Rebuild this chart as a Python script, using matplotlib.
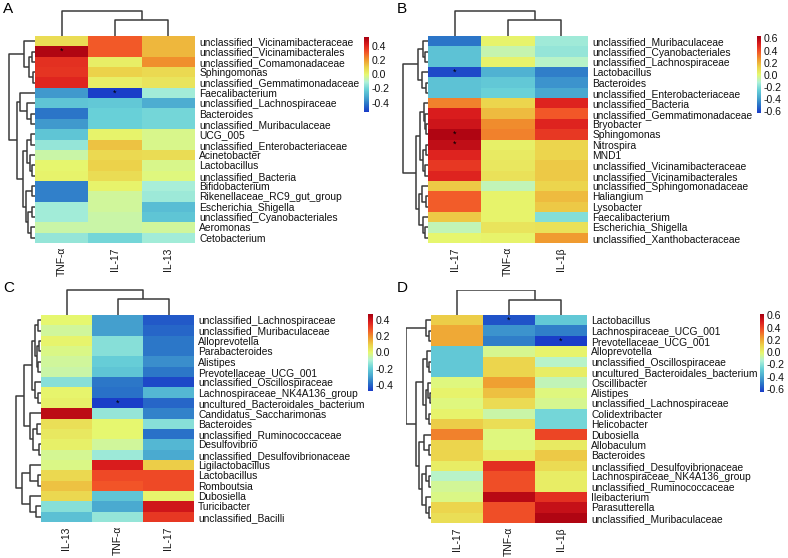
import numpy as np
import matplotlib
matplotlib.use("Agg")
import matplotlib.pyplot as plt
from matplotlib.colors import LinearSegmentedColormap, Normalize

plt.rcParams['font.family'] = ['Liberation Sans', 'DejaVu Sans']

# ---------------- data ----------------
# panel A
a_rows = ['unclassified_Vicinamibacteraceae', 'unclassified_Vicinamibacterales',
          'unclassified_Comamonadaceae', 'Sphingomonas', 'unclassified_Gemmatimonadaceae',
          'Faecalibacterium', 'unclassified_Lachnospiraceae', 'Bacteroides',
          'unclassified_Muribaculaceae', 'UCG_005', 'unclassified_Enterobacteriaceae',
          'Acinetobacter', 'Lactobacillus', 'unclassified_Bacteria', 'Bifidobacterium',
          'Rikenellaceae_RC9_gut_group', 'Escherichia_Shigella',
          'unclassified_Cyanobacteriales', 'Aeromonas', 'Cetobacterium']
a_cols = ['TNF-α', 'IL-17', 'IL-13']
a_vals = [[0.07, 0.30, 0.15], [0.50, 0.30, 0.15], [0.38, 0.02, 0.22], [0.37, 0.10, 0.08],
          [0.40, 0.02, 0.05], [-0.35, -0.53, -0.13], [-0.25, -0.24, -0.31], [-0.42, -0.22, -0.20],
          [-0.35, -0.22, -0.20], [-0.25, 0.01, -0.03], [-0.15, 0.13, -0.03], [-0.06, 0.08, 0.07],
          [0.00, 0.10, -0.03], [0.01, 0.07, -0.02], [-0.40, 0.01, -0.12], [-0.40, -0.05, -0.14],
          [-0.13, -0.05, -0.27], [-0.13, -0.06, -0.25], [-0.06, -0.06, -0.05], [-0.15, -0.20, -0.13]]
a_stars = [(1, 0), (5, 1)]
a_range = (-0.53, 0.52)
a_row_tree = (1.0,
              (0.40, 0, (0.23, (0.12, 1, 2), (0.08, 3, 4))),
              (0.67, (0.57, 5, (0.30, 6, (0.15, 7, 8))),
               (0.47, (0.30, (0.15, 9, 10), (0.20, 11, (0.10, 12, 13))),
                (0.35, (0.10, 14, 15), (0.25, (0.12, 16, 17), (0.15, 18, 19))))))
a_col_tree = (1.0, 0, (0.64, 1, 2))

# panel B
b_rows = ['unclassified_Muribaculaceae', 'unclassified_Cyanobacteriales',
          'unclassified_Lachnospiraceae', 'Lactobacillus', 'Bacteroides',
          'unclassified_Enterobacteriaceae', 'unclassified_Bacteria',
          'unclassified_Gemmatimonadaceae', 'Bryobacter', 'Sphingomonas', 'Nitrospira', 'MND1',
          'unclassified_Vicinamibacteraceae', 'unclassified_Vicinamibacterales',
          'unclassified_Sphingomonadaceae', 'Haliangium', 'Lysobacter', 'Faecalibacterium',
          'Escherichia_Shigella', 'unclassified_Xanthobacteraceae']
b_cols = ['IL-17', 'TNF-α', 'IL-1β']
b_vals = [[-0.50, 0.02, -0.15], [-0.30, -0.07, -0.17], [-0.30, 0.02, -0.10], [-0.60, -0.35, -0.48],
          [-0.30, -0.28, -0.43], [-0.30, -0.25, -0.38], [0.30, 0.12, 0.50], [0.52, 0.18, 0.38],
          [0.55, 0.28, 0.50], [0.62, 0.30, 0.45], [0.58, 0.03, 0.12], [0.50, 0.05, 0.12],
          [0.45, 0.06, 0.15], [0.50, 0.08, 0.15], [0.15, -0.08, 0.12], [0.37, 0.02, 0.18],
          [0.37, 0.02, 0.15], [0.15, 0.02, -0.20], [-0.08, 0.07, 0.08], [0.01, 0.02, 0.25]]
b_stars = [(3, 0), (9, 0), (10, 0)]
b_range = (-0.63, 0.64)
b_row_tree = (1.0,
              (0.38, (0.20, 0, (0.10, 1, 2)), (0.22, 3, (0.08, 4, 5))),
              (0.48, (0.30, (0.15, 6, (0.10, 7, (0.06, 8, 9))), (0.20, (0.08, 10, 11), (0.10, 12, 13))),
               (0.35, (0.22, 14, (0.08, 15, 16)), (0.20, 17, (0.10, 18, 19)))))
b_col_tree = (1.0, 0, (0.64, 1, 2))

# panel C
c_rows = ['unclassified_Lachnospiraceae', 'unclassified_Muribaculaceae', 'Alloprevotella',
          'Parabacteroides', 'Alistipes', 'Prevotellaceae_UCG_001',
          'unclassified_Oscillospiraceae', 'Lachnospiraceae_NK4A136_group',
          'uncultured_Bacteroidales_bacterium', 'Candidatus_Saccharimonas', 'Bacteroides',
          'unclassified_Ruminococcaceae', 'Desulfovibrio', 'unclassified_Desulfovibrionaceae',
          'Ligilactobacillus', 'Lactobacillus', 'Romboutsia', 'Dubosiella', 'Turicibacter',
          'unclassified_Bacilli']
c_cols = ['IL-13', 'TNF-α', 'IL-17']
c_vals = [[0.00, -0.30, -0.42], [-0.04, -0.30, -0.40], [0.01, -0.15, -0.37], [-0.02, -0.15, -0.37],
          [-0.04, -0.20, -0.33], [-0.05, -0.22, -0.37], [-0.15, -0.37, -0.45], [0.01, -0.38, -0.25],
          [0.02, -0.47, -0.40], [0.43, -0.13, -0.35], [0.06, 0.00, -0.15], [0.04, 0.00, -0.38],
          [0.02, -0.04, -0.25], [-0.03, -0.12, -0.28], [-0.02, 0.38, 0.10], [0.08, 0.30, 0.30],
          [0.12, 0.28, 0.30], [0.08, -0.22, 0.01], [-0.15, -0.28, 0.40], [-0.23, -0.13, 0.33]]
c_stars = [(8, 1)]
c_range = (-0.47, 0.47)
c_row_tree = (1.0,
              (0.68, (0.36, (0.25, (0.12, 0, 1), (0.15, (0.08, 2, 3), (0.10, 4, 5))),
                      (0.25, 6, (0.10, 7, 8))),
               (0.45, 9, (0.30, (0.15, 10, 11), (0.08, 12, 13)))),
              (0.74, (0.42, 14, (0.12, 15, 16)), (0.45, 17, (0.20, 18, 19))))
c_col_tree = (1.0, 0, (0.64, 1, 2))

# panel D
d_rows = ['Lactobacillus', 'Lachnospiraceae_UCG_001', 'Prevotellaceae_UCG_001',
          'Alloprevotella', 'unclassified_Oscillospiraceae', 'uncultured_Bacteroidales_bacterium',
          'Oscillibacter', 'Alistipes', 'unclassified_Lachnospiraceae', 'Colidextribacter',
          'Helicobacter', 'Dubosiella', 'Allobaculum', 'Bacteroides',
          'unclassified_Desulfovibrionaceae', 'Lachnospiraceae_NK4A136_group',
          'unclassified_Ruminococcaceae', 'Ileibacterium', 'Parasutterella',
          'unclassified_Muribaculaceae']
d_cols = ['IL-17', 'TNF-α', 'IL-1β']
d_vals = [[0.12, -0.60, -0.30], [0.20, -0.45, -0.50], [0.20, -0.50, -0.65], [-0.30, -0.05, 0.00],
          [-0.30, 0.10, -0.12], [-0.30, 0.10, 0.02], [-0.03, 0.22, -0.10], [0.00, 0.15, -0.03],
          [-0.03, 0.08, -0.05], [0.00, -0.08, -0.25], [0.12, 0.07, -0.25], [0.28, -0.03, 0.40],
          [0.10, -0.03, 0.03], [0.10, 0.02, 0.13], [0.02, 0.45, 0.08], [-0.12, 0.38, 0.02],
          [-0.06, 0.38, 0.02], [-0.04, 0.58, 0.45], [0.10, 0.38, 0.55], [0.07, 0.38, 0.60]]
d_stars = [(0, 1), (2, 2)]
d_range = (-0.65, 0.62)
d_row_tree = (1.0,
              (0.22, 0, (0.10, 1, 2)),
              (0.63, (0.32, (0.15, 3, (0.08, 4, 5)), (0.22, (0.12, 6, (0.06, 7, 8)), (0.10, 9, 10))),
               (0.49, (0.30, 11, (0.10, 12, 13)),
                (0.35, (0.20, 14, (0.08, 15, 16)), (0.22, 17, (0.08, 18, 19))))))
d_col_tree = (1.0, 0, (0.62, 1, 2))

# ---------------- style ----------------
W, H = 788, 558
cmap = LinearSegmentedColormap.from_list('hm', [
    "#1a3dc8", "#2a74c8", "#4aaad0", "#6ad2d8", "#b0f2d8", "#e6f870",
    "#ecd24a", "#f0982e", "#f25428", "#dc1e1e", "#a80010"])
line_col = '#3a3a3a'

fig = plt.figure(figsize=(W / 100, H / 100), dpi=100)


def px_axes(x0, y0, x1, y1):
    return fig.add_axes([x0 / W, 1 - y1 / H, (x1 - x0) / W, (y1 - y0) / H])


def draw_tree(ax, node, rows):
    if isinstance(node, int):
        return node + 0.5, 0.0
    h, left, right = node
    pl, hl = draw_tree(ax, left, rows)
    pr, hr = draw_tree(ax, right, rows)
    xs = [hl, h, h, hr]
    ys = [pl, pl, pr, pr]
    if rows:
        ax.plot(xs, ys, color=line_col, lw=1.1, solid_capstyle='butt')
    else:
        ax.plot(ys, xs, color=line_col, lw=1.1, solid_capstyle='butt')
    return (pl + pr) / 2, h


def panel(letter, ox, oy, hm, rdx, cdy, cb, rows, cols, vals, stars, vrange,
          rtree, ctree, ticks):
    vals = np.array(vals)
    nr, nc = vals.shape
    x0, y0, x1, y1 = hm
    norm = Normalize(vrange[0], vrange[1])

    ax = px_axes(ox + x0, oy + y0, ox + x1, oy + y1)
    ax.pcolormesh(np.arange(nc + 1), np.arange(nr + 1), vals, cmap=cmap, norm=norm)
    ax.set_xlim(0, nc)
    ax.set_ylim(nr, 0)
    ax.yaxis.tick_right()
    ax.set_yticks(np.arange(nr) + 0.5)
    ax.set_yticklabels(rows, fontsize=7.4, color='#111111')
    ax.set_xticks(np.arange(nc) + 0.5)
    ax.set_xticklabels(cols, rotation=90, fontsize=7.4, color='#111111')
    ax.tick_params(length=0, pad=3)
    for s in ax.spines.values():
        s.set_visible(False)
    for r, c in stars:
        ax.text(c + 0.5, r + 0.5, '*', ha='center', va='center', fontsize=6.5, color='black')

    # row dendrogram
    ad = px_axes(ox + rdx, oy + y0, ox + x0, oy + y1)
    draw_tree(ad, rtree, True)
    ad.set_xlim(1.02, 0)
    ad.set_ylim(nr, 0)
    ad.axis('off')

    # column dendrogram
    ac = px_axes(ox + x0, oy + cdy, ox + x1, oy + y0)
    draw_tree(ac, ctree, False)
    ac.set_xlim(0, nc)
    ac.set_ylim(0, 1.02)
    ac.axis('off')

    # colorbar
    cx0, cy0, cx1, cy1 = cb
    acb = px_axes(ox + cx0, oy + cy0, ox + cx1, oy + cy1)
    grad = np.linspace(vrange[0], vrange[1], 200).reshape(-1, 1)
    acb.imshow(grad, aspect='auto', cmap=cmap, norm=norm, origin='lower',
               extent=[0, 1, vrange[0], vrange[1]])
    acb.set_xticks([])
    acb.yaxis.tick_right()
    acb.set_yticks(ticks)
    acb.set_yticklabels([f'{t:.1f}' for t in ticks], fontsize=7.6, color='#111111')
    acb.tick_params(length=0, pad=2)
    for s in acb.spines.values():
        s.set_visible(False)

    fig.text((ox + 3) / W, 1 - (oy + 2) / H, letter, fontsize=11, ha='left', va='top')


t4 = [0.4, 0.2, 0.0, -0.2, -0.4]
t6 = [0.6, 0.4, 0.2, 0.0, -0.2, -0.4, -0.6]
panel('A', 0, 0, (35, 36, 195, 243), 8, 10, (364, 37, 369, 112),
      a_rows, a_cols, a_vals, a_stars, a_range, a_row_tree, a_col_tree, t4)
panel('B', 394, 0, (34, 36, 194, 243), 8, 10, (363, 36, 367, 113),
      b_rows, b_cols, b_vals, b_stars, b_range, b_row_tree, b_col_tree, t6)
panel('C', 0, 279, (41, 36, 194, 243), 15, 10, (368, 35, 373, 112),
      c_rows, c_cols, c_vals, c_stars, c_range, c_row_tree, c_col_tree, t4)
panel('D', 394, 279, (37, 36, 193, 244), 12, 11, (366, 35, 370, 113),
      d_rows, d_cols, d_vals, d_stars, d_range, d_row_tree, d_col_tree, t6)

fig.savefig('out.png', dpi=100)
